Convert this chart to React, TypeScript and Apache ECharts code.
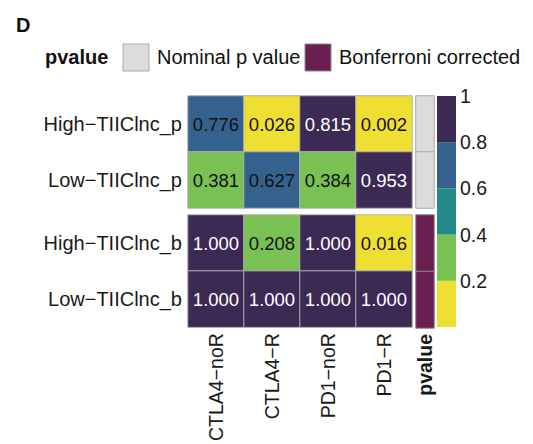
import React, { useEffect, useRef } from "react";
import * as echarts from "echarts";

const rowsP = ["High−TIIClnc_p", "Low−TIIClnc_p"];
const rowsB = ["High−TIIClnc_b", "Low−TIIClnc_b"];
const cols = ["CTLA4−noR", "CTLA4−R", "PD1−noR", "PD1−R"];
const highP = [0.776, 0.026, 0.815, 0.002];
const lowP = [0.381, 0.627, 0.384, 0.953];
const highB = [1.0, 0.208, 1.0, 0.016];
const lowB = [1.0, 1.0, 1.0, 1.0];
const breaks = [0, 0.2, 0.4, 0.6, 0.8, 1];
const scaleColors = ["#f0df33", "#79c153", "#228a89", "#35618f", "#3c2a54"];
const annotNames = ["Nominal p value", "Bonferroni corrected"];
const annotColors = ["#dcdcde", "#6b1f50"];

const FONT = "Liberation Sans, Arial, sans-serif";

function cells(rows: number[][]) {
  const out: any[] = [];
  rows.forEach((vals, r) =>
    vals.forEach((v, c) =>
      out.push({
        value: [c, r, v],
        label: { color: v > 0.8 ? "#ffffff" : "#111111" },
      })
    )
  );
  return out;
}

export default function App() {
  const ref = useRef<HTMLDivElement>(null);
  useEffect(() => {
    const chart = echarts.init(ref.current!, null, { renderer: "svg" });
    const hidden = {
      axisLine: { show: false },
      axisTick: { show: false },
      axisLabel: { show: false },
      splitLine: { show: false },
    };
    const heatLabel = {
      show: true,
      fontSize: 18.5,
      fontFamily: FONT,
      formatter: (p: any) => p.value[2].toFixed(3),
    };
    const cellStyle = { borderColor: "#b3b3b3", borderWidth: 1 };
    const annotStyle = (i: number) => ({
      borderColor: i === 0 ? "#aaaaaa" : "#8a8a8a",
      borderWidth: 1,
    });
    chart.setOption({
      animation: false,
      textStyle: { fontFamily: FONT },
      grid: [
        { left: 188, top: 96, width: 224, height: 112 },
        { left: 188, top: 215, width: 224, height: 113 },
        { left: 416, top: 96, width: 18, height: 112 },
        { left: 416, top: 215, width: 18, height: 113 },
        { left: 437, top: 96, width: 19, height: 231 },
      ],
      xAxis: [
        { type: "category", gridIndex: 0, data: cols, ...hidden },
        {
          type: "category",
          gridIndex: 1,
          data: cols,
          axisLine: { show: false },
          axisTick: { show: false },
          axisLabel: { rotate: 90, fontSize: 19.5, color: "#1a1a1a", margin: 6, fontFamily: FONT },
        },
        { type: "category", gridIndex: 2, data: ["pvalue"], ...hidden },
        {
          type: "category",
          gridIndex: 3,
          data: ["pvalue"],
          axisLine: { show: false },
          axisTick: { show: false },
          axisLabel: { rotate: 90, fontSize: 19.5, fontWeight: "bold", color: "#1a1a1a", margin: 6, fontFamily: FONT },
        },
        { type: "category", gridIndex: 4, data: ["scale"], ...hidden },
      ],
      yAxis: [
        {
          type: "category",
          gridIndex: 0,
          data: rowsP,
          inverse: true,
          axisLine: { show: false },
          axisTick: { show: false },
          axisLabel: { fontSize: 20, color: "#1a1a1a", margin: 6, fontFamily: FONT },
        },
        {
          type: "category",
          gridIndex: 1,
          data: rowsB,
          inverse: true,
          axisLine: { show: false },
          axisTick: { show: false },
          axisLabel: { fontSize: 20, color: "#1a1a1a", margin: 6, fontFamily: FONT },
        },
        { type: "category", gridIndex: 2, data: rowsP, inverse: true, ...hidden },
        { type: "category", gridIndex: 3, data: rowsB, inverse: true, ...hidden },
        {
          type: "value",
          gridIndex: 4,
          min: 0,
          max: 1,
          interval: 0.2,
          position: "right",
          axisLine: { show: false },
          axisTick: { show: false },
          splitLine: { show: false },
          axisLabel: {
            fontSize: 19.5,
            color: "#1a1a1a",
            margin: 4,
            fontFamily: FONT,
            formatter: (v: number) => (v === 0 ? "" : String(Math.round(v * 10) / 10)),
          },
        },
      ],
      visualMap: [
        {
          type: "piecewise",
          show: false,
          seriesIndex: [0, 1],
          dimension: 2,
          pieces: scaleColors.map((c, i) => ({
            gte: breaks[i],
            lt: i === scaleColors.length - 1 ? 1.0001 : breaks[i + 1],
            color: c,
          })),
        },
        {
          type: "piecewise",
          show: false,
          seriesIndex: [2, 3],
          dimension: 2,
          pieces: annotColors.map((c, i) => ({ value: i, color: c })),
        },
      ],
      series: [
        {
          type: "heatmap",
          xAxisIndex: 0,
          yAxisIndex: 0,
          data: cells([highP, lowP]),
          label: heatLabel,
          itemStyle: cellStyle,
        },
        {
          type: "heatmap",
          xAxisIndex: 1,
          yAxisIndex: 1,
          data: cells([highB, lowB]),
          label: heatLabel,
          itemStyle: cellStyle,
        },
        {
          type: "heatmap",
          name: annotNames[0],
          xAxisIndex: 2,
          yAxisIndex: 2,
          data: rowsP.map((_, r) => [0, r, 0]),
          itemStyle: annotStyle(0),
        },
        {
          type: "heatmap",
          name: annotNames[1],
          xAxisIndex: 3,
          yAxisIndex: 3,
          data: rowsB.map((_, r) => [0, r, 1]),
          itemStyle: annotStyle(1),
        },
        ...scaleColors.map((c, i) => ({
          type: "bar",
          xAxisIndex: 4,
          yAxisIndex: 4,
          stack: "scale",
          barWidth: "100%",
          data: [Math.round((breaks[i + 1] - breaks[i]) * 1000) / 1000],
          itemStyle: { color: c },
        })),
      ],
      graphic: [
        {
          type: "text",
          x: 16,
          y: 25,
          style: { text: "D", fontSize: 20, fontWeight: "bold", fill: "#111", fontFamily: FONT, verticalAlign: "middle" },
        },
        {
          type: "text",
          x: 45,
          y: 57,
          style: { text: "pvalue", fontSize: 20, fontWeight: "bold", fill: "#111", fontFamily: FONT, verticalAlign: "middle" },
        },
        {
          type: "rect",
          shape: { x: 123, y: 44, width: 26, height: 27 },
          style: { fill: annotColors[0], stroke: "#aaaaaa", lineWidth: 1 },
        },
        {
          type: "text",
          x: 157,
          y: 57,
          style: { text: annotNames[0], fontSize: 20, fill: "#111", fontFamily: FONT, verticalAlign: "middle" },
        },
        {
          type: "rect",
          shape: { x: 305, y: 44, width: 26, height: 27 },
          style: { fill: annotColors[1], stroke: "#8a8a8a", lineWidth: 1 },
        },
        {
          type: "text",
          x: 339,
          y: 57,
          style: { text: annotNames[1], fontSize: 20, fill: "#111", fontFamily: FONT, verticalAlign: "middle" },
        },
      ],
    });
    return () => chart.dispose();
  }, []);
  return (
    <div
      ref={ref}
      style={{ position: "fixed", left: 0, top: 0, width: 533, height: 444, background: "#fff" }}
    />
  );
}
